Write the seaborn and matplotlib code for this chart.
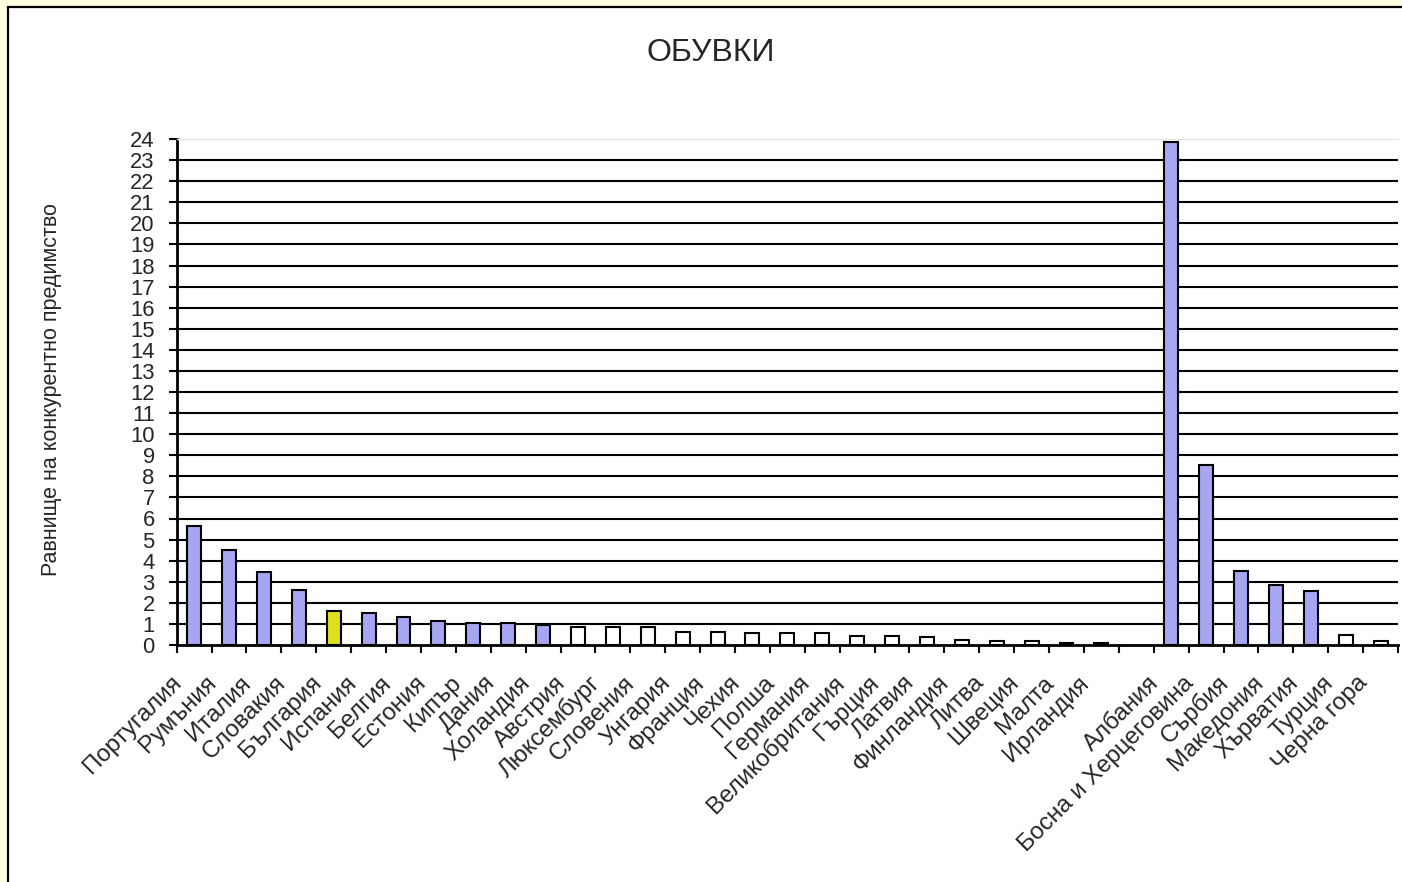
import numpy as np
import pandas as pd
import matplotlib
matplotlib.use("Agg")
import matplotlib.pyplot as plt
import seaborn as sns
from matplotlib.patches import Rectangle
from matplotlib.transforms import ScaledTranslation

sns.set_style("white")
plt.rcParams['font.family'] = ['Liberation Sans', 'DejaVu Sans']

# ---------------- data ----------------
countries = ["Португалия", "Румъния", "Италия", "Словакия", "България", "Испания",
             "Белгия", "Естония", "Кипър", "Дания", "Холандия", "Австрия",
             "Люксембург", "Словения", "Унгария", "Франция", "Чехия", "Полша",
             "Германия", "Великобритания", "Гърция", "Латвия", "Финландия",
             "Литва", "Швеция", "Малта", "Ирландия", "",
             "Албания", "Босна и Херцеговина", "Сърбия", "Македония",
             "Хърватия", "Турция", "Черна гора"]
values = [5.63, 4.49, 3.44, 2.59, 1.63, 1.52, 1.35, 1.16, 1.03, 1.02, 0.96, 0.87,
          0.87, 0.84, 0.64, 0.64, 0.55, 0.55, 0.55, 0.45, 0.45, 0.36, 0.26,
          0.17, 0.17, 0.08, 0.08, np.nan,
          23.85, 8.54, 3.50, 2.83, 2.55, 0.46, 0.18]
groups = ["adv", "adv", "adv", "adv", "bg", "adv", "adv", "adv", "adv", "adv",
          "adv", "low", "low", "low", "low", "low", "low", "low", "low", "low",
          "low", "low", "low", "low", "low", "low", "low", "none",
          "adv", "adv", "adv", "adv", "adv", "low", "low"]
y_ticks = list(range(0, 25))
title = "ОБУВКИ"
y_label = "Равнище на конкурентно предимство"

group_colors = {"adv": "#9999FF", "bg": "#FFFF00", "low": "#FFFFFF", "none": "#FFFFFF"}

df = pd.DataFrame({"country": countries, "value": values, "group": groups})
palette = {c: group_colors[g] for c, g in zip(countries, groups)}

# ---------------- figure ----------------
W, H = 1402, 882
fig = plt.figure(figsize=(W / 100, H / 100), dpi=100, facecolor="#FFFFE0")
frame = Rectangle((8 / W, -0.1), 1.2, (1 - 7 / H) + 0.1, transform=fig.transFigure,
                  facecolor="white", edgecolor="black", lw=1.6, zorder=-1)
fig.add_artist(frame)

ax_l, ax_r, ax_t, ax_b = 176.7, 1398, 139, 645
ax = fig.add_axes([ax_l / W, 1 - ax_b / H, (ax_r - ax_l) / W, (ax_b - ax_t) / H])
ax.set_facecolor("white")

for yv in y_ticks[1:-1]:
    ax.axhline(yv, color="black", lw=1.5, zorder=1)

sns.barplot(data=df, x="country", y="value", hue="country", palette=palette,
            order=countries, hue_order=countries, width=0.4, edgecolor="black",
            linewidth=1.5, errorbar=None, legend=False, ax=ax, zorder=3)

ax.set_xlim(-0.5, len(countries) - 0.5)
ax.set_ylim(0, 24)
ax.set_yticks(y_ticks)
ax.set_yticklabels([str(v) for v in y_ticks])
ax.tick_params(axis="y", which="major", length=5.8, width=1.5, direction="out",
               labelsize=15.8, pad=10, left=True, color="black")

ax.set_xticks(range(len(countries)))
ax.set_xticklabels(countries, rotation=45, ha="right", va="center",
                   rotation_mode="anchor", fontsize=17.3)
ax.set_xticks(np.arange(-0.5, len(countries), 1), minor=True)
ax.tick_params(axis="x", which="major", length=0, pad=25, bottom=True)
ax.tick_params(axis="x", which="minor", length=5.8, width=1.5, direction="out",
               bottom=True, color="black")
offset = ScaledTranslation(-0.16, 0, fig.dpi_scale_trans)
for lbl in ax.get_xticklabels():
    lbl.set_transform(lbl.get_transform() + offset)

ax.set_xlabel("")
ax.set_ylabel("")
for side in ["left", "bottom"]:
    ax.spines[side].set_color("black")
    ax.spines[side].set_linewidth(2)
ax.spines["top"].set_color("#E6E6E6")
ax.spines["top"].set_linewidth(1)
ax.spines["right"].set_visible(False)

fig.text(711 / W, 1 - 53 / H, title, fontsize=23, ha="center", va="center")
fig.text(52 / W, 1 - 390 / H, y_label, fontsize=15.5, rotation=90,
         ha="center", va="center")

fig.savefig("out.png", dpi=100, facecolor=fig.get_facecolor())
